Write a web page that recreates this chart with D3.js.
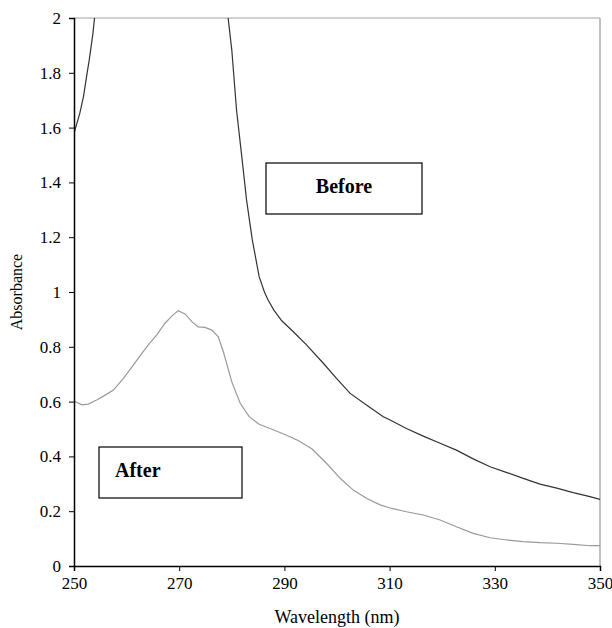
<!DOCTYPE html>
<html>
<head>
<meta charset="utf-8">
<script src="https://cdn.jsdelivr.net/npm/d3@7"></script>
<style>
  body { margin: 0; background: #fff; }
</style>
</head>
<body>
<svg id="chart" width="612" height="628"></svg>
<script>
"use strict"

const serif = "'Liberation Serif', 'Times New Roman', 'DejaVu Serif', serif"

// wavelength (nm) / absorbance pairs
// "Before" leaves the top of the plot between ~254 and ~279 nm
const beforeWl = [250, 251.1, 251.8, 252.5, 252.9, 253.6, 253.9, 256, 260, 265, 270, 275, 278,
    279.3, 280.0, 280.9, 281.9, 282.8, 283.9, 285.2, 286.2, 286.9, 288.0, 289.5, 291.7, 294.2,
    297.4, 299.9, 302.5, 305.6, 308.8, 310.1, 313.2, 316.4, 319.6, 322.7, 325.9, 329.1, 332.3,
    335.4, 338.6, 341.8, 344.9, 348.1, 350]
const beforeAbs = [1.579, 1.652, 1.713, 1.80, 1.847, 1.944, 2.0, 2.5, 3.0, 3.2, 3.2, 2.9, 2.3,
    2.0, 1.883, 1.664, 1.494, 1.336, 1.190, 1.056, 1.0, 0.971, 0.934, 0.895, 0.855, 0.807,
    0.740, 0.685, 0.630, 0.588, 0.545, 0.533, 0.502, 0.474, 0.448, 0.423, 0.391, 0.362, 0.341,
    0.320, 0.299, 0.284, 0.268, 0.253, 0.243]

const afterWl = [250, 250.2, 251.5, 252.7, 254.3, 255.6, 257.5, 259.4, 261.3, 262.9, 264.4, 265.7,
    267.3, 268.6, 269.8, 271.1, 272.4, 273.6, 274.9, 276.2, 277.4, 278.4, 280.0, 281.6, 283.3,
    285.2, 287.5, 290.1, 292.6, 295.2, 298.0, 300.6, 303.1, 305.6, 308.2, 310.4, 313.2, 316.4,
    319.6, 322.7, 325.9, 329.1, 332.3, 335.4, 338.6, 341.8, 344.9, 348.1, 350]
const afterAbs = [0.605, 0.600, 0.588, 0.591, 0.606, 0.620, 0.642, 0.685, 0.734, 0.776, 0.813, 0.843,
    0.886, 0.912, 0.932, 0.920, 0.892, 0.873, 0.871, 0.861, 0.837, 0.782, 0.672, 0.594, 0.545,
    0.517, 0.500, 0.480, 0.458, 0.428, 0.375, 0.320, 0.277, 0.247, 0.223, 0.210, 0.198, 0.186,
    0.168, 0.143, 0.119, 0.103, 0.095, 0.089, 0.085, 0.083, 0.079, 0.074, 0.074]

const xTicks = [250, 270, 290, 310, 330, 350]
const yTicks = [0, 0.2, 0.4, 0.6, 0.8, 1, 1.2, 1.4, 1.6, 1.8, 2]

const labels = [
    { text: "Before", x: 266, y: 163, w: 156, h: 51, center: true },
    { text: "After", x: 99, y: 447, w: 143, h: 51, center: false }
]

const margin = { top: 18, right: 12, bottom: 62, left: 74 }
const width = 612 - margin.left - margin.right
const height = 628 - margin.top - margin.bottom

const svg = d3.select("#chart")
const g = svg.append("g")
    .attr("transform", "translate(" + margin.left + "," + margin.top + ")")

const x = d3.scaleLinear().domain([250, 350]).range([0, width])
const y = d3.scaleLinear().domain([0, 2]).range([height, 0])

svg.append("defs").append("clipPath")
    .attr("id", "plot-clip")
    .append("rect")
    .attr("x", 0).attr("y", 0)
    .attr("width", width).attr("height", height)

// light grey frame on top and right
g.append("line")
    .attr("x1", 0).attr("x2", width)
    .attr("y1", 0).attr("y2", 0)
    .style("stroke", "#c0c0c0").style("stroke-width", 1.5)
g.append("line")
    .attr("x1", width).attr("x2", width)
    .attr("y1", 0).attr("y2", height)
    .style("stroke", "#c0c0c0").style("stroke-width", 2)

const line = d3.line()
    .x(d => x(d[0]))
    .y(d => y(d[1]))

g.append("path")
    .datum(d3.zip(afterWl, afterAbs))
    .attr("clip-path", "url(#plot-clip)")
    .attr("d", line)
    .style("fill", "none")
    .style("stroke", "#999")
    .style("stroke-width", 1.2)

g.append("path")
    .datum(d3.zip(beforeWl, beforeAbs))
    .attr("clip-path", "url(#plot-clip)")
    .attr("d", line)
    .style("fill", "none")
    .style("stroke", "#333")
    .style("stroke-width", 1.2)

const xAxis = g.append("g")
    .attr("transform", "translate(0," + height + ")")
    .call(d3.axisBottom(x).tickValues(xTicks).tickFormat(d3.format("d")).tickSizeOuter(0).tickSize(5).tickPadding(6))
const yAxis = g.append("g")
    .call(d3.axisLeft(y).tickValues(yTicks).tickFormat(d => String(d)).tickSizeOuter(0).tickSize(5).tickPadding(8))

for (const ax of [xAxis, yAxis]) {
    ax.attr("font-family", serif).attr("font-size", 17)
    ax.select(".domain").style("stroke", "#000").style("stroke-width", 1.5)
    ax.selectAll(".tick line").style("stroke", "#000").style("stroke-width", 1)
    ax.selectAll(".tick text")
        .attr("font-family", serif)
        .style("font-family", serif)
        .style("font-size", "17px")
        .style("fill", "#000")
}

svg.append("text")
    .attr("x", margin.left + width / 2)
    .attr("y", 623)
    .attr("text-anchor", "middle")
    .style("font-family", serif)
    .style("font-size", "18px")
    .text("Wavelength (nm)")

svg.append("text")
    .attr("transform", "translate(22," + (margin.top + height / 2) + ") rotate(-90)")
    .attr("text-anchor", "middle")
    .style("font-family", serif)
    .style("font-size", "16px")
    .text("Absorbance")

const boxes = svg.selectAll(".label-box")
    .data(labels)
    .enter()
    .append("g")
    .attr("class", "label-box")

boxes.append("rect")
    .attr("x", d => d.x).attr("y", d => d.y)
    .attr("width", d => d.w).attr("height", d => d.h)
    .style("fill", "#fff")
    .style("stroke", "#000")
    .style("stroke-width", 1.2)

boxes.append("text")
    .attr("x", d => d.center ? d.x + d.w / 2 : d.x + 16)
    .attr("y", d => d.y + 30)
    .attr("text-anchor", d => d.center ? "middle" : "start")
    .style("font-family", serif)
    .style("font-size", "20px")
    .style("font-weight", "bold")
    .text(d => d.text)
</script>
</body>
</html>
